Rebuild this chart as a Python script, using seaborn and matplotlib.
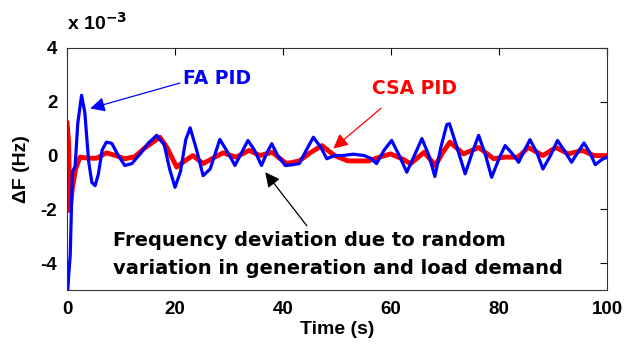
import numpy as np
import pandas as pd
import seaborn as sns
import matplotlib.pyplot as plt

# values (dF in units of 1e-3 Hz)
fa_t = [0, 0.3, 0.6, 1.0, 1.5, 2.0, 2.7, 3.3, 4.0, 4.6, 5.2, 5.8, 6.5, 7.3, 8.3, 9.5,
        10.7, 12, 13.5, 15, 16.6, 18, 19, 20, 21, 22, 22.8, 24, 25.2, 26.5, 28.3, 29.8,
        31.1, 32.3, 33.5, 34.7, 36, 37, 37.9, 39, 40.4, 41.5, 43, 44.3, 45.6, 47, 48.1,
        49.5, 51, 53, 55, 56.2, 57.3, 58.7, 60.1, 61.5, 62.9, 64.3, 65.7, 67, 68.1, 69.2,
        70.3, 70.8, 72.2, 73.7, 75, 76.2, 77.5, 78.6, 80, 81.1, 82.3, 83.6, 84.7, 85.7,
        87, 88.1, 89.5, 90.8, 92, 93.4, 94.5, 95.7, 96.8, 97.8, 99, 100]
fa_v = [-5.5, -4.5, -3.7, -0.6, -0.4, 1.2, 2.24, 1.6, -0.2, -1.0, -1.12, -0.7, 0.2, 0.5,
        0.45, 0.0, -0.37, -0.3, 0.05, 0.45, 0.75, 0.4, -0.5, -1.18, -0.6, 0.6, 1.03, 0.2,
        -0.75, -0.5, 0.6, 0.1, -0.37, 0.1, 0.56, 0.2, -0.37, 0.1, 0.44, 0.0, -0.37, -0.35,
        -0.3, 0.2, 0.68, 0.3, -0.12, 0.0, 0.0, 0.05, 0.0, -0.1, -0.3, 0.2, 0.56, 0.0,
        -0.62, 0.0, 0.63, 0.0, -0.78, 0.3, 1.15, 1.18, 0.3, -0.68, 0.1, 0.75, 0.0, -0.81,
        -0.1, 0.37, 0.1, -0.25, 0.2, 0.59, 0.1, -0.5, 0.0, 0.56, 0.2, -0.25, 0.1, 0.47,
        0.1, -0.34, -0.15, -0.06]

csa_t = [0, 0.3, 0.55, 1.0, 1.6, 2.4, 4, 5.5, 7.3, 9, 10.7, 12.5, 14.5, 17.2, 18.5, 20.3,
         21.8, 23.3, 25.2, 27, 28.9, 31.3, 33.7, 35.7, 38, 40.6, 43, 45, 47.2, 49.5, 52,
         55.8, 58, 59.9, 61.8, 63.6, 66.1, 68.2, 69.5, 70.9, 72, 73.4, 76.2, 79, 81, 83.5,
         85.4, 88.1, 90.5, 92.8, 95.4, 97.5, 100]
csa_v = [1.24, 0.5, -2.05, -1.2, -0.5, -0.06, -0.1, -0.1, 0.1, 0.0, -0.12, -0.05, 0.3,
         0.68, 0.3, -0.43, -0.2, 0.0, -0.3, -0.1, 0.1, -0.06, 0.19, 0.0, 0.12, -0.3, -0.2,
         0.1, 0.37, 0.0, -0.2, -0.2, -0.05, 0.06, -0.1, -0.3, 0.12, -0.37, 0.1, 0.5, 0.3,
         0.06, 0.3, -0.12, -0.06, -0.06, 0.3, 0.0, 0.3, 0.06, 0.19, 0.0, 0.0]

sns.set_style('white')
plt.rcParams['font.family'] = ['Liberation Sans', 'DejaVu Sans']
plt.rcParams['font.weight'] = 'bold'
plt.rcParams['axes.unicode_minus'] = False
plt.rcParams['text.color'] = 'black'
plt.rcParams['axes.labelcolor'] = 'black'
plt.rcParams['xtick.color'] = 'black'
plt.rcParams['ytick.color'] = 'black'

fig = plt.figure(figsize=(6.26, 3.47), dpi=100)
ax = fig.add_axes([0.107, 0.164, 0.863, 0.698])

df_csa = pd.DataFrame({'t': csa_t, 'v': csa_v})
df_fa = pd.DataFrame({'t': fa_t, 'v': fa_v})
sns.lineplot(data=df_csa, x='t', y='v', color='#ff0000', lw=3.5, ax=ax, sort=False)
sns.lineplot(data=df_fa, x='t', y='v', color='#0000ff', lw=2.3, ax=ax, sort=False)

ax.set_xlim(0, 100)
ax.set_ylim(-5, 4)
ax.set_xticks([0, 20, 40, 60, 80, 100])
ax.set_yticks([-4, -2, 0, 2, 4])
ax.tick_params(direction='in', top=True, right=True, length=5, width=0.8,
               labelsize=13.5)
ax.tick_params(axis='x', pad=8)
ax.tick_params(axis='y', pad=7)
for lab in ax.get_xticklabels() + ax.get_yticklabels():
    lab.set_fontweight('bold')
for s in ax.spines.values():
    s.set_linewidth(0.8)
    s.set_color('#333333')

ax.set_xlabel('Time (s)', fontsize=14, fontweight='bold', labelpad=2)
ax.set_ylabel('\u0394F (Hz)', fontsize=14, fontweight='bold', labelpad=8)
ax.text(0.0, 1.06, r'x 10$^{\mathbf{-3}}$', transform=ax.transAxes, fontsize=14,
        fontweight='bold', ha='left', va='bottom')

wide = ['DejaVu Sans']
# annotations
ax.annotate('FA PID', xy=(4.3, 1.75), xytext=(21.5, 2.87), color='#0000ff',
            fontsize=13.5, fontweight='bold', family=wide, va='center', ha='left',
            arrowprops=dict(arrowstyle='-|>', color='#0000ff', lw=0.9,
                            mutation_scale=22, shrinkA=0, shrinkB=0,
                            relpos=(0, 0.3)))
ax.annotate('CSA PID', xy=(49.3, 0.26), xytext=(56.5, 2.5), color='#ff0000',
            fontsize=13.5, fontweight='bold', family=wide, va='center', ha='left',
            arrowprops=dict(arrowstyle='-|>', color='#ff0000', lw=0.9,
                            mutation_scale=22, shrinkA=8, shrinkB=0,
                            relpos=(0.25, 0)))
ax.annotate('', xy=(36.7, -0.62), xytext=(44.4, -2.61),
            arrowprops=dict(arrowstyle='-|>', color='black', lw=0.9,
                            mutation_scale=22, shrinkA=0, shrinkB=0))
ax.text(8.5, -3.17, 'Frequency deviation due to random', fontsize=14,
        fontweight='bold', family=wide, va='center', ha='left')
ax.text(8.5, -4.18, 'variation in generation and load demand', fontsize=14,
        fontweight='bold', family=wide, va='center', ha='left')

fig.savefig('out.png', dpi=100)
